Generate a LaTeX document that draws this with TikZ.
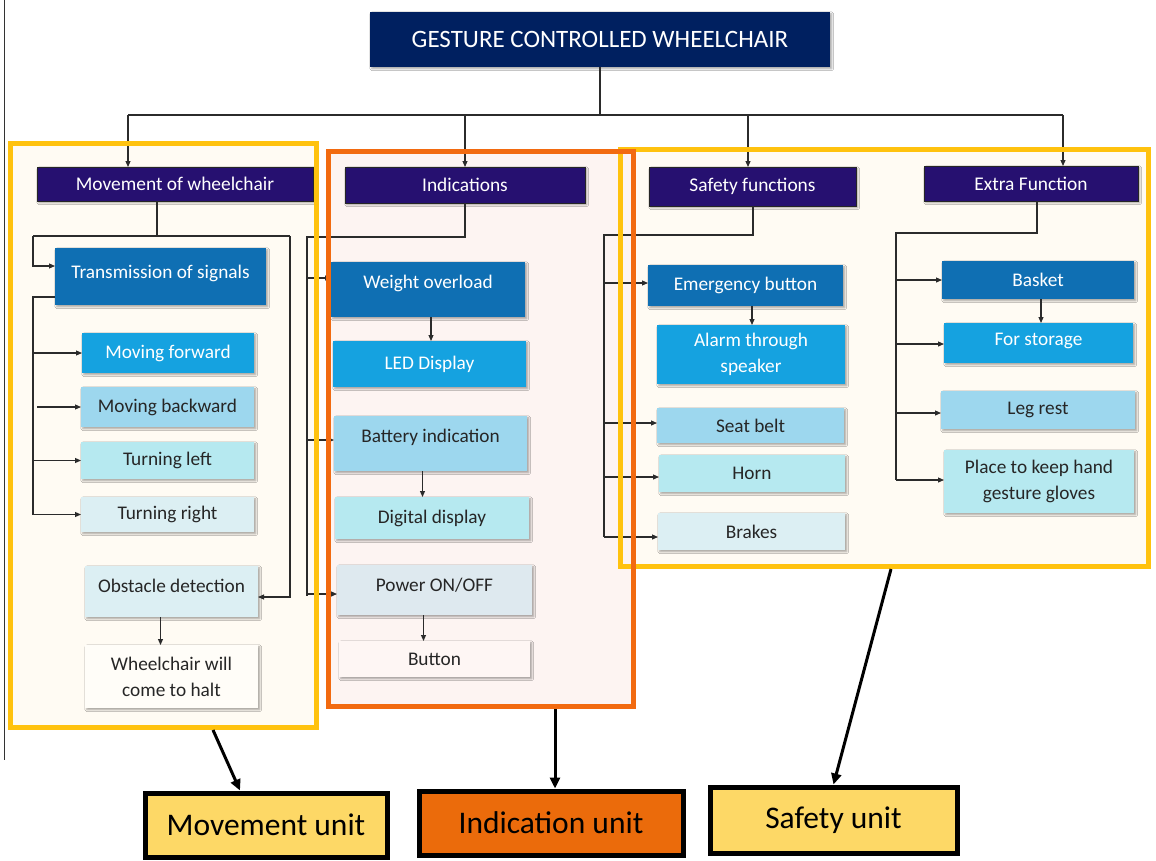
\documentclass[tikz,border=0pt]{standalone}
\usepackage{fontspec}
\setmainfont{Carlito}
\usetikzlibrary{arrows.meta,shadows.blur}
\definecolor{titlefill}{HTML}{002060}
\definecolor{headfill}{HTML}{261070}
\definecolor{cdark}{HTML}{0F6FB3}
\definecolor{cmid}{HTML}{15A2E0}
\definecolor{clight}{HTML}{9DD7EE}
\definecolor{cpale}{HTML}{B6E9F0}
\definecolor{cvpale}{HTML}{DCEFF3}
\definecolor{cpower}{HTML}{DEE9EF}
\definecolor{cwhite}{HTML}{FFFDF8}
\definecolor{cbutton}{HTML}{FEF6F4}
\definecolor{frameyel}{HTML}{FFC20E}
\definecolor{frameora}{HTML}{F26A10}
\definecolor{creamfill}{HTML}{FFFBF3}
\definecolor{pinkfill}{HTML}{FDF4F2}
\definecolor{unityel}{HTML}{FDD866}
\definecolor{unitora}{HTML}{EB6B0B}
\definecolor{txtdark}{HTML}{262626}
\definecolor{lncol}{HTML}{2B2B2B}
\newcommand\mkbox[7]{\node[#6, minimum width={#4-#2}, minimum height={#5-#3}] (#1) at ({(#2+#4)/2},{(#3+#5)/2}) {#7};}
\newcommand\upby[2]{\raisebox{#1}[\height][\depth]{#2}}
\tikzset{
  base/.style={rectangle, outer sep=0pt, inner sep=2pt, align=center,
    blur shadow={shadow xshift=1.8pt, shadow yshift=-1.8pt, shadow blur steps=4, shadow opacity=35}},
  titlebox/.style={base, fill=titlefill, text=white, font=\fontsize{25}{28}\selectfont},
  headbox/.style={base, fill=headfill, draw=black!85, line width=0.6pt, text=white, font=\fontsize{19.4}{22}\selectfont},
  boxw/.style={base, text=white, font=\fontsize{19.3}{26}\selectfont},
  boxd/.style={base, text=txtdark, font=\fontsize{19.3}{26}\selectfont},
  unitbox/.style={rectangle, draw=black, line width=5pt, outer sep=2.5pt, text=black, font=\fontsize{31.5}{34}\selectfont},
  ln/.style={draw=lncol, line width=1.1pt},
  ar/.style={ln, -{Triangle[length=6pt,width=5pt]}},
  bigar/.style={draw=black, line width=3pt, -{Triangle[length=11pt,width=10pt]}},
  framey/.style={draw=frameyel, line width=5pt},
  frameo/.style={draw=frameora, line width=5pt}
}
\begin{document}
\begin{tikzpicture}[x=1pt,y=-1pt]
\useasboundingbox[fill=white] (0,0) rectangle (1156,860);
% frame fills
\fill[creamfill] (10,143) rectangle (316,727);
\fill[creamfill] (620,149) rectangle (1148,566);
\fill[pinkfill] (328,151) rectangle (633,706);
% thin left edge line
\draw[black!80, line width=0.8pt] (4,0) -- (4,760);

% title
\mkbox{title}{370}{12}{830}{67}{titlebox}{GESTURE CONTROLLED WHEELCHAIR}
% headers
\mkbox{mvh}{37}{167}{313}{201}{headbox}{Movement of wheelchair}
\mkbox{inh}{345}{167}{585}{203}{headbox}{Indications}
\mkbox{sfh}{649}{167}{856}{206}{headbox}{Safety functions}
\mkbox{exh}{924}{166}{1138}{201}{headbox}{Extra Function}

% movement column
\mkbox{trans}{55}{248}{266}{305}{boxw, fill=cdark}{\upby{3pt}{Transmission of signals}}
\mkbox{mf}{82}{333}{254}{373}{boxw, fill=cmid}{Moving forward}
\mkbox{mb}{81}{387}{254}{427}{boxd, fill=clight}{Moving backward}
\mkbox{tl}{81}{442}{254}{479}{boxd, fill=cpale}{Turning left}
\mkbox{tr}{81}{497}{254}{532}{boxd, fill=cvpale}{Turning right}
\mkbox{obst}{85}{566}{258}{617}{boxd, fill=cvpale}{\upby{6pt}{Obstacle detection}}
\mkbox{halt}{85}{645}{258}{708}{boxd, fill=cwhite}{Wheelchair will\\come to halt}

% indications column
\mkbox{wo}{331}{262}{525}{317}{boxw, fill=cdark}{\upby{6pt}{Weight overload}}
\mkbox{led}{333}{341}{526}{387}{boxw, fill=cmid}{LED Display}
\mkbox{bat}{334}{416}{527}{471}{boxd, fill=clight}{\upby{6pt}{Battery indication}}
\mkbox{dig}{335}{497}{529}{539}{boxd, fill=cpale}{Digital display}
\mkbox{pow}{337}{565}{532}{615}{boxd, fill=cpower}{\upby{5pt}{Power ON/OFF}}
\mkbox{btn}{339}{641}{530}{677}{boxd, fill=cbutton}{Button}

% safety column
\mkbox{em}{648}{265}{843}{306}{boxw, fill=cdark}{Emergency button}
\mkbox{alarm}{657}{325}{845}{384}{boxw, fill=cmid}{Alarm through\\speaker}
\mkbox{seat}{657}{408}{844}{443}{boxd, fill=clight}{Seat belt}
\mkbox{horn}{659}{455}{845}{492}{boxd, fill=cpale}{Horn}
\mkbox{brk}{658}{513}{845}{550}{boxd, fill=cvpale}{Brakes}

% extra column
\mkbox{bask}{942}{261}{1134}{299}{boxw, fill=cdark}{Basket}
\mkbox{stor}{944}{323}{1133}{363}{boxw, fill=cmid}{\upby{2pt}{For storage}}
\mkbox{leg}{941}{391}{1135}{429}{boxd, fill=clight}{Leg rest}
\mkbox{place}{944}{450}{1134}{513}{boxd, fill=cpale}{Place to keep hand\\gesture gloves}

% units
\mkbox{mu}{145}{793}{387}{857}{unitbox, fill=unityel}{Movement unit}
\mkbox{iu}{419}{791}{683}{855}{unitbox, fill=unitora}{Indication unit}
\mkbox{su}{710}{787}{957}{853}{unitbox, fill=unityel}{Safety unit}

% top tree
\coordinate (tj) at (600,115);
\coordinate (d1) at (128,115);
\coordinate (d2) at (465,115);
\coordinate (d3) at (748,115);
\coordinate (d4) at (1063,115);
\draw[ln] (title.south -| tj) -- (tj);
\draw[ln] (d1) -- (d4);
\draw[ar] (d1) -- (d1 |- mvh.north);
\draw[ar] (d2) -- (d2 |- inh.north);
\draw[ar] (d3) -- (d3 |- sfh.north);
\draw[ar] (d4) -- (d4 |- exh.north);

% movement connectors
\coordinate (m0) at (157,236);
\coordinate (mL) at (33,236);
\coordinate (mR) at (290,236);
\draw[ln] (m0 |- mvh.south) -- (m0);
\draw[ln] (mL) -- (mR);
\draw[ar] (mL) |- ([yshift=10.5pt]trans.west);
\draw[ar] (mR) |- ([yshift=-5.5pt]obst.east);
\coordinate (tL) at (33,297);
\draw[ln] ([yshift=-20.5pt]trans.west) -- (tL) -- (tL |- tr.west);
\draw[ar] (tL |- mf.west) -- (mf.west);
\draw[ar] ([xshift=4pt]tL |- mb.west) -- (mb.west);
\draw[ar] (tL |- tl.west) -- (tl.west);
\draw[ar] (tL |- tr.west) -- (tr.west);
\draw[ar] ([xshift=-11pt]obst.south) -- ([xshift=-11pt]obst.south |- halt.north);

% indication connectors
\coordinate (i0) at (465,237);
\coordinate (iL) at (307,237);
\coordinate (iB) at (307,596);
\coordinate (iw) at (307,278);
\coordinate (ib) at (307,440);
\coordinate (ip) at (307,594);
\draw[ln] (i0 |- inh.south) -- (i0) -- (iL) -- (iB);
\draw[ar] (iw) -- (iw -| wo.west);
\draw[ar] (ib) -- (ib -| bat.west);
\draw[ar] (ip) -- (ip -| pow.west);
\draw[ar] ([xshift=3pt]wo.south) -- ([xshift=3pt]wo.south |- led.north);
\draw[ar] ([xshift=-8pt]bat.south) -- ([xshift=-8pt]bat.south |- dig.north);
\draw[ar] ([xshift=-11pt]pow.south) -- ([xshift=-11pt]pow.south |- btn.north);

% safety connectors
\coordinate (s0) at (753,235);
\coordinate (sL) at (604,235);
\coordinate (sB) at (604,537);
\coordinate (se) at (604,283);
\coordinate (ss) at (604,423);
\coordinate (sh) at (604,477);
\draw[ln] (s0 |- sfh.south) -- (s0) -- (sL) -- (sB);
\draw[ar] (se) -- (se -| em.west);
\draw[ar] (ss) -- (ss -| seat.west);
\draw[ar] (sh) -- (sh -| horn.west);
\draw[ar] (sB) -- (sB -| brk.west);
\draw[ar] ([xshift=6.5pt]em.south) -- ([xshift=6.5pt]em.south |- alarm.north);

% extra connectors
\coordinate (e0) at (1037,233);
\coordinate (eL) at (896,233);
\coordinate (eB) at (896,480);
\coordinate (eb) at (896,280);
\coordinate (es) at (896,344);
\coordinate (el) at (896,413);
\draw[ln] (e0 |- exh.south) -- (e0) -- (eL) -- (eB);
\draw[ar] (eb) -- (eb -| bask.west);
\draw[ar] (es) -- (es -| stor.west);
\draw[ar] (el) -- (el -| leg.west);
\draw[ar] (eB) -- (eB -| place.west);
\draw[ar] ([xshift=3pt]bask.south) -- ([xshift=3pt]bask.south |- stor.north);

% frames
\draw[framey] (10,143) rectangle (316,727);
\draw[framey] (620,149) rectangle (1148,566);
\draw[frameo] (328,151) rectangle (633,706);

% unit arrows
\coordinate (mvfb) at (213,730);
\coordinate (infb) at (555,709);
\coordinate (sffb) at (891,569);
\draw[bigar] (mvfb) -- ([xshift=-26pt]mu.north);
\draw[bigar] (infb) -- (infb |- iu.north);
\draw[bigar] (sffb) -- (su.north);
\end{tikzpicture}
\end{document}
